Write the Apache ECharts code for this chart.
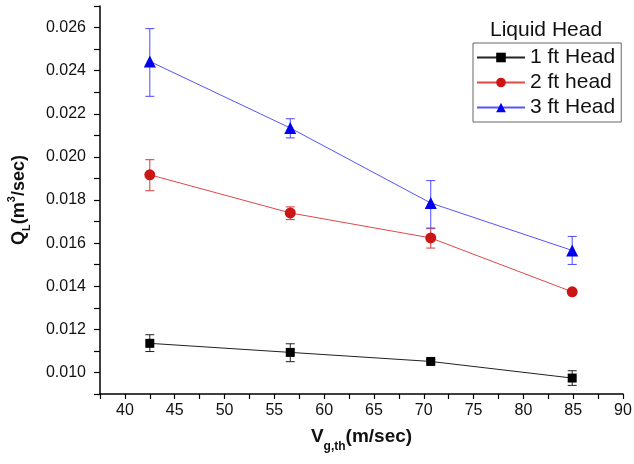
<!DOCTYPE html>
<html>
<head>
<meta charset="utf-8">
<script src="https://cdn.jsdelivr.net/npm/echarts@6/dist/echarts.min.js"></script>
<style>
  html, body { margin: 0; padding: 0; background: #fff; }
  #chart { width: 634px; height: 464px; }
</style>
</head>
<body>
<div id="chart"></div>
<script>
// gas velocity (m/sec)
var xVals = [42.5, 56.6, 70.7, 84.9];

// 1 ft Head
var head1 = [0.01135, 0.01093, 0.01051, 0.00974];
var head1Lo = [0.01097, 0.01050, 0.01042, 0.00940];
var head1Hi = [0.01175, 0.01133, 0.01060, 0.01008];

// 2 ft head
var head2 = [0.01917, 0.01740, 0.01624, 0.01374];
var head2Lo = [0.01843, 0.01709, 0.01577, 0.01366];
var head2Hi = [0.01987, 0.01768, 0.01667, 0.01382];

// 3 ft Head
var head3 = [0.02443, 0.02134, 0.01786, 0.01566];
var head3Lo = [0.02281, 0.02088, 0.01670, 0.01501];
var head3Hi = [0.02595, 0.02177, 0.01890, 0.01631];

var names = ['1 ft Head', '2 ft head', '3 ft Head'];

var FONT = 'Liberation Sans, Arial, sans-serif';

function pairs(ys) {
	return xVals.map(function (x, i) { return [x, ys[i]]; });
}

function errData(lo, hi) {
	return xVals.map(function (x, i) { return [x, lo[i], hi[i]]; });
}

// vertical error bar with caps
function errBar(color) {
	return function (params, api) {
		var top = api.coord([api.value(0), api.value(2)]);
		var bot = api.coord([api.value(0), api.value(1)]);
		var hw = 4.5;
		var st = { stroke: color, lineWidth: 1 };
		return {
			type: 'group',
			children: [
				{ type: 'line', shape: { x1: top[0], y1: top[1], x2: bot[0], y2: bot[1] }, style: st },
				{ type: 'line', shape: { x1: top[0] - hw, y1: top[1], x2: top[0] + hw, y2: top[1] }, style: st },
				{ type: 'line', shape: { x1: bot[0] - hw, y1: bot[1], x2: bot[0] + hw, y2: bot[1] }, style: st }
			]
		};
	};
}

function lineSeries(name, ys, symbol, size, markColor, lineColor) {
	return {
		name: name,
		type: 'line',
		data: pairs(ys),
		symbol: symbol,
		symbolSize: size,
		showAllSymbol: true,
		z: 5,
		itemStyle: { color: markColor, borderWidth: 0 },
		lineStyle: { color: lineColor, width: 1 }
	};
}

function errSeries(lo, hi, color) {
	return {
		name: 'err',
		type: 'custom',
		data: errData(lo, hi),
		encode: { x: 0, y: [1, 2] },
		renderItem: errBar(color),
		z: 3,
		silent: true
	};
}

var myChart = echarts.init(document.getElementById('chart'));
var option = {
	backgroundColor: '#fff',
	animation: false,
	title: {
		text: 'Liquid Head',
		left: 490,
		top: 20,
		padding: 0,
		textStyle: { fontFamily: FONT, fontSize: 21, fontWeight: 'normal', color: '#111' }
	},
	legend: {
		data: names,
		orient: 'vertical',
		left: 473,
		top: 43,
		padding: [4, 6, 4, 3],
		itemGap: 4,
		itemWidth: 48,
		itemHeight: 12,
		itemTextGap: 8,
		borderColor: '#666',
		borderWidth: 1,
		textStyle: { fontFamily: FONT, fontSize: 21, color: '#111' }
	},
	grid: { left: 100, right: 11, top: 6, bottom: 70, containLabel: false, outerBoundsMode: 'none' },
	xAxis: {
		type: 'value',
		min: 37.5,
		max: 90,
		interval: 2.5,
		name: '{b|V}{s|g,th}{b|(m/sec)}',
		nameLocation: 'middle',
		nameGap: 33,
		nameTextStyle: {
			rich: {
				b: { fontFamily: FONT, fontSize: 19, fontWeight: 'bold', color: '#111', lineHeight: 26, verticalAlign: 'top' },
				s: { fontFamily: FONT, fontSize: 12, fontWeight: 'bold', color: '#111', lineHeight: 26, verticalAlign: 'bottom' }
			}
		},
		splitLine: { show: false },
		axisLine: { onZero: false, lineStyle: { color: '#000', width: 1.5 } },
		axisTick: { length: 5, lineStyle: { color: '#000', width: 1.2 } },
		axisLabel: {
			margin: 9,
			fontFamily: FONT,
			fontSize: 16,
			color: '#111',
			formatter: function (v) { return v % 5 === 0 ? String(v) : ''; }
		}
	},
	yAxis: {
		type: 'value',
		min: 0.009,
		max: 0.027,
		interval: 0.001,
		name: '{b|Q}{s|L}{b|(m}{p|3}{b|/sec)}',
		nameLocation: 'middle',
		nameRotate: 90,
		nameGap: 68,
		nameTextStyle: {
			rich: {
				b: { fontFamily: FONT, fontSize: 18, fontWeight: 'bold', color: '#111', lineHeight: 26, verticalAlign: 'middle' },
				s: { fontFamily: FONT, fontSize: 11, fontWeight: 'bold', color: '#111', lineHeight: 26, verticalAlign: 'bottom' },
				p: { fontFamily: FONT, fontSize: 11, fontWeight: 'bold', color: '#111', lineHeight: 26, verticalAlign: 'top' }
			}
		},
		splitLine: { show: false },
		axisLine: { show: true, onZero: false, lineStyle: { color: '#000', width: 1.5 } },
		axisTick: { show: true, length: 6, lineStyle: { color: '#000', width: 1.2 } },
		axisLabel: {
			margin: 14,
			fontFamily: FONT,
			fontSize: 16,
			color: '#111',
			formatter: function (v) {
				var k = Math.round(v * 1000);
				return k % 2 === 0 ? (k / 1000).toFixed(3) : '';
			}
		}
	},
	series: [
		errSeries(head1Lo, head1Hi, '#222'),
		errSeries(head2Lo, head2Hi, '#d83a3a'),
		errSeries(head3Lo, head3Hi, '#4a4aff'),
		lineSeries(names[0], head1, 'rect', 9, '#000', '#222'),
		lineSeries(names[1], head2, 'circle', 11, '#cc1515', '#e04848'),
		lineSeries(names[2], head3, 'triangle', 12, '#0000ee', '#5555ff')
	]
};
myChart.setOption(option);
</script>
</body>
</html>
